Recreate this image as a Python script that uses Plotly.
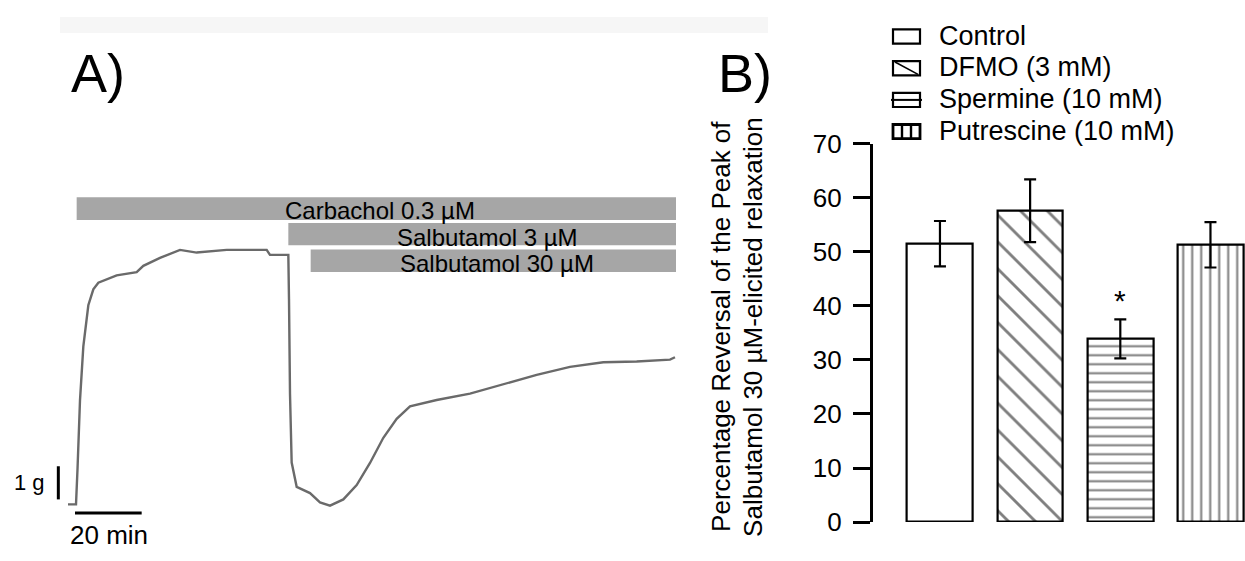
import plotly.graph_objects as go

W, H = 1245, 561
FONT = "Liberation Sans, Arial, sans-serif"

# ---------------- Panel A data (isometric tension trace) ----------------
time_min = [0, 2.4, 2.85, 3.6, 4.6, 6.1, 7.6, 9.1, 14.6, 20.6, 22.6, 27.6, 33.6, 38.6,
            47.6, 59.6, 60.6, 66.1, 66.3, 66.6, 67.1, 68.6, 72.6, 75.6, 78.6, 82.6,
            86.6, 90.6, 94.6, 98.6, 102.6, 110.6, 120.6, 130.6, 140.6, 150.6, 160.6,
            170.6, 180.6, 182.1]
tension_g = [0, 0, 1.06, 3.14, 4.77, 6.01, 6.49, 6.69, 6.91, 7.01, 7.2, 7.44, 7.68, 7.6,
             7.68, 7.68, 7.53, 7.53, 6.2, 3.34, 1.26, 0.53, 0.34, 0.06, -0.04, 0.15,
             0.58, 1.25, 2.01, 2.58, 2.96, 3.15, 3.34, 3.63, 3.91, 4.15, 4.29,
             4.31, 4.37, 4.44]

drug_labels = ["Carbachol 0.3 µM", "Salbutamol 3 µM", "Salbutamol 30 µM"]
drug_start_min = [2.6, 66.1, 72.8]
drug_end_min = [182.4, 182.4, 182.4]

scale_time_min = 20
scale_tension_g = 1

# ---------------- Panel B data ----------------
groups = ["Control", "DFMO (3 mM)", "Spermine (10 mM)", "Putrescine (10 mM)"]
means = [51.5, 57.6, 33.9, 51.3]
sems = [4.2, 5.8, 3.6, 4.2]
significant = [False, False, True, False]
y_ticks = [0, 10, 20, 30, 40, 50, 60, 70]
y_title_lines = ["Percentage Reversal of the Peak of", "Salbutamol 30 µM-elicited relaxation"]

patterns = ["", "\\", "-", "|"]
pattern_sizes = [8, 19, 9, 9]
pattern_solidity = [0.2, 0.15, 0.23, 0.23]


def px(x):
    return x / W


def py(y):
    return 1 - y / H


fig = go.Figure()

fig.add_trace(go.Scatter(
    x=time_min, y=tension_g, mode="lines",
    line=dict(color="#6a6a6a", width=2.4),
    xaxis="x", yaxis="y", showlegend=False, hoverinfo="skip"))

xpos = list(range(len(groups)))
for i, g in enumerate(groups):
    marker = dict(color="white", line=dict(color="black", width=2.2))
    if patterns[i]:
        marker["pattern"] = dict(shape=patterns[i], fgcolor="black", bgcolor="white",
                                 size=pattern_sizes[i], solidity=pattern_solidity[i])
    fig.add_trace(go.Bar(
        x=[xpos[i]], y=[means[i]], width=0.73, name=g, marker=marker,
        error_y=dict(type="data", array=[sems[i]], color="black", thickness=2.2, width=6),
        xaxis="x2", yaxis="y2", showlegend=False, hoverinfo="skip"))

shapes = []
annotations = []

# faint strip at the top of the original figure
shapes.append(dict(type="rect", xref="paper", yref="paper",
                   x0=px(60), x1=px(768), y0=py(19), y1=py(2),
                   fillcolor="#f6f6f6", line=dict(width=0), layer="below"))

# Drug application bars (panel A)
bar_levels = [(8.58, 9.27), (7.82, 8.49), (7.01, 7.69)]
label_levels = [8.86, 8.07, 7.27]
for i, lab in enumerate(drug_labels):
    y0, y1 = bar_levels[i]
    shapes.append(dict(type="rect", xref="x", yref="y",
                       x0=drug_start_min[i], x1=drug_end_min[i], y0=y0, y1=y1,
                       fillcolor="#a6a6a6", line=dict(width=0), layer="below"))
    cx = 93.6 if i == 0 else (drug_start_min[i] + drug_end_min[i]) / 2 + (1.0 if i == 2 else 1.5)
    annotations.append(dict(xref="x", yref="y", x=cx, y=label_levels[i], text=lab,
                            showarrow=False, xanchor="center", yanchor="middle",
                            font=dict(family=FONT, size=24, color="black")))

# Scale bars
shapes.append(dict(type="line", xref="x", yref="y", x0=-2.9, x1=-2.9,
                   y0=0.15, y1=0.15 + scale_tension_g, line=dict(color="black", width=3)))
shapes.append(dict(type="line", xref="x", yref="y", x0=2.1, x1=2.1 + scale_time_min,
                   y0=-0.26, y1=-0.26, line=dict(color="black", width=3)))
annotations.append(dict(xref="x", yref="y", x=-6.3, y=0.66, text=f"{scale_tension_g} g",
                        showarrow=False, xanchor="right", yanchor="middle",
                        font=dict(family=FONT, size=22, color="black")))
annotations.append(dict(xref="x", yref="y", x=12.2, y=-0.92, text=f"{scale_time_min} min",
                        showarrow=False, xanchor="center", yanchor="middle",
                        font=dict(family=FONT, size=26, color="black")))

# Panel labels
annotations.append(dict(xref="paper", yref="paper", x=px(69), y=py(61), text="A)",
                        showarrow=False, xanchor="left", yanchor="middle",
                        font=dict(family=FONT, size=54, color="black")))
annotations.append(dict(xref="paper", yref="paper", x=px(716), y=py(61), text="B)",
                        showarrow=False, xanchor="left", yanchor="middle",
                        font=dict(family=FONT, size=54, color="black")))

# Y-axis title for panel B (two rotated lines)
for xline, txt in zip([721.5, 753.5], y_title_lines):
    annotations.append(dict(xref="paper", yref="paper", x=px(xline), y=py(329), text=txt,
                            textangle=-90, showarrow=False, xanchor="center", yanchor="middle",
                            font=dict(family=FONT, size=26, color="black")))

# Significance marker
for i, s in enumerate(significant):
    if s:
        annotations.append(dict(xref="x2", yref="y2", x=xpos[i], y=means[i] + sems[i] + 0.1,
                                text="*", showarrow=False, xanchor="center", yanchor="bottom",
                                font=dict(family=FONT, size=30, color="black")))

# Manual legend (top of panel B)
bx0, bx1 = 893, 920
for i, g in enumerate(groups):
    cy = 22.7 + 33.5 * i
    y_top, y_bot = cy - 7.5, cy + 7.5
    lw = 2.2 if i != 3 else 2.8
    shapes.append(dict(type="rect", xref="paper", yref="paper",
                       x0=px(bx0), x1=px(bx1), y0=py(y_bot), y1=py(y_top),
                       fillcolor="white", line=dict(color="black", width=lw)))
    if patterns[i] == "\\":
        shapes.append(dict(type="line", xref="paper", yref="paper",
                           x0=px(bx0 + 2), y0=py(y_top + 1), x1=px(bx1 - 2), y1=py(y_bot - 1),
                           line=dict(color="black", width=1.6)))
    elif patterns[i] == "-":
        shapes.append(dict(type="line", xref="paper", yref="paper",
                           x0=px(bx0 - 2), y0=py(cy), x1=px(bx1 + 2), y1=py(cy),
                           line=dict(color="black", width=2)))
    elif patterns[i] == "|":
        for f in (1 / 3, 2 / 3):
            xx = bx0 + f * (bx1 - bx0)
            shapes.append(dict(type="line", xref="paper", yref="paper",
                               x0=px(xx), y0=py(y_top), x1=px(xx), y1=py(y_bot),
                               line=dict(color="black", width=2.4)))
    annotations.append(dict(xref="paper", yref="paper", x=px(937), y=py(cy - 1), text=g,
                            showarrow=False, xanchor="left", yanchor="middle",
                            font=dict(family=FONT, size=27, color="black")))

fig.update_layout(
    width=W, height=H,
    margin=dict(l=0, r=0, t=0, b=0),
    paper_bgcolor="white", plot_bgcolor="rgba(0,0,0,0)",
    font=dict(family=FONT, color="black"),
    bargap=0,
    xaxis=dict(domain=[0, px(700)], range=[-20.4, 189.6], visible=False, fixedrange=True),
    yaxis=dict(domain=[0, 1], range=[-1.257, 14.771], visible=False, fixedrange=True),
    xaxis2=dict(domain=[px(872.7), 1], range=[-0.746, 3.383], anchor="y2",
                showline=False, showgrid=False, zeroline=False, showticklabels=False,
                ticks=""),
    yaxis2=dict(domain=[1 - 535.7 / H, 1 - 136 / H], range=[0, 70], anchor="x2",
                showline=True, linecolor="black", linewidth=2.5,
                ticks="outside", ticklen=17, tickwidth=2.5, tickcolor="black",
                tickvals=y_ticks, ticktext=[str(v) for v in y_ticks],
                showgrid=False, zeroline=False, ticklabelstandoff=6,
                tickfont=dict(family=FONT, size=26, color="black")),
    shapes=shapes,
    annotations=annotations,
)

fig.write_html(
    "out.html", config={"displayModeBar": False},
    post_script=("var gd=document.getElementById('{plot_id}');"
                 "gd.style.position='fixed';gd.style.left='0px';gd.style.top='0px';"
                 "document.body.style.margin='0';document.body.style.overflow='hidden';"))
